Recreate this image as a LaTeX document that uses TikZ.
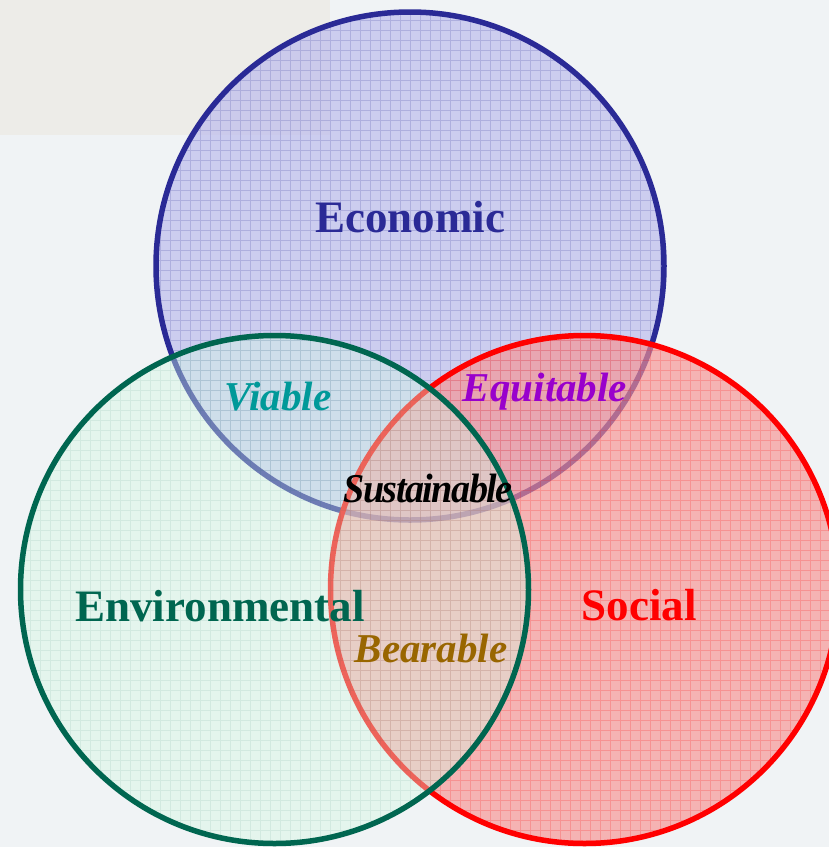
\documentclass[tikz,border=0pt]{standalone}
\usepackage{fontspec}
\setmainfont{Liberation Serif}
\definecolor{bgc}{RGB}{240,243,245}
\definecolor{bgtop}{RGB}{237,236,232}
\definecolor{ecofill}{RGB}{186,185,237}
\definecolor{ecoline}{RGB}{42,42,150}
\definecolor{socfill}{RGB}{248,146,145}
\definecolor{socline}{RGB}{255,0,0}
\definecolor{envfill}{RGB}{210,248,227}
\definecolor{envline}{RGB}{0,102,80}
\definecolor{viacol}{RGB}{0,153,153}
\definecolor{equcol}{RGB}{153,0,204}
\definecolor{beacol}{RGB}{153,102,0}
\begin{document}
\begin{tikzpicture}[x=1pt,y=-1pt,
  lbl/.style={anchor=base,inner sep=0pt,font=\bfseries\fontsize{45}{50}\selectfont},
  ilbl/.style={anchor=base,inner sep=0pt,font=\bfseries\itshape\fontsize{41}{46}\selectfont},
  gridlines/.style={opacity=0.18,line width=0.6pt,step=10pt},
  ring/.style={line width=5.5pt}]
\useasboundingbox (0,0) rectangle (829,847);
\clip (0,0) rectangle (829,847);
\fill[bgc] (0,0) rectangle (829,847);
\fill[bgtop] (0,0) rectangle (330,135);
\coordinate (E) at (410,266);
\coordinate (V) at (274.5,589.5);
\coordinate (S) at (584.5,589.5);
% Economic
\fill[ecofill,fill opacity=0.65] (E) circle[radius=254];
\begin{scope}
  \clip (E) circle[radius=254];
  \draw[gridlines,ecoline] (0,0) grid (829,847);
\end{scope}
\draw[ring,ecoline] (E) circle[radius=254];
% Social
\fill[socfill,fill opacity=0.65] (S) circle[radius=254];
\begin{scope}
  \clip (S) circle[radius=254];
  \draw[gridlines,socline] (0,0) grid (829,847);
\end{scope}
\draw[ring,socline] (S) circle[radius=254];
% Environmental
\fill[envfill,fill opacity=0.4] (V) circle[radius=254];
\begin{scope}
  \clip (V) circle[radius=254];
  \draw[gridlines,envline,opacity=0.08] (0,0) grid (829,847);
\end{scope}
\draw[ring,envline] (V) circle[radius=254];
% Labels
\node[lbl,text=ecoline] (eco) at (410,232) {Economic};
\node[lbl,text=envline] (env) at (220,621) {Environmental};
\node[lbl,text=socline] (soc) at (639,620) {Social};
\node[ilbl,text=viacol] (via) at (278,410) {Viable};
\node[ilbl,text=equcol] (equ) at (545,401) {Equitable};
\node[ilbl,text=beacol] (bea) at (431,662) {Bearable};
\node[ilbl,text=black] (sus) at (428,502) {\scalebox{0.93}[1]{\addfontfeature{LetterSpace=-4}Sustainable}};
\end{tikzpicture}
\end{document}
